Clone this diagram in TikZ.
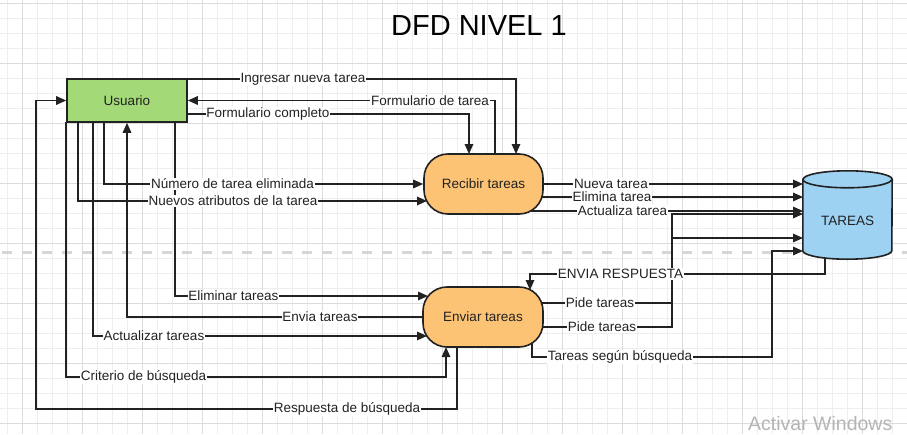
\documentclass[tikz,border=0pt]{standalone}
\usepackage{fontspec}
\setmainfont{Liberation Sans}
\usetikzlibrary{arrows.meta}
\definecolor{linec}{HTML}{222222}
\definecolor{txt}{HTML}{222222}
\definecolor{usrgreen}{HTML}{A3D977}
\definecolor{procorange}{HTML}{FDC374}
\definecolor{tarblue}{HTML}{9DD2F2}
\definecolor{gridminor}{HTML}{EEEEEE}
\definecolor{gridmajor}{HTML}{DCDCDC}
\definecolor{pagebreak}{HTML}{D6D6D6}
\definecolor{watermark}{HTML}{B4B4B4}
\begin{document}
\begin{tikzpicture}[x=1pt,y=-1pt,
  conn/.style={line width=1.6pt, draw=linec},
  arr/.style={conn, -{Triangle[length=10pt,width=8.5pt]}},
  lbl/.style={fill=white, inner sep=0.8pt, text=txt, font=\fontsize{13.5}{16}\selectfont},
  entity/.style={draw=linec, line width=1.6pt, fill=usrgreen, minimum width=120pt, minimum height=43pt, inner sep=0pt, text=txt, font=\fontsize{13.5}{16}\selectfont},
  proc/.style={draw=linec, line width=1.6pt, fill=procorange, rounded corners=24pt, minimum width=120pt, minimum height=60pt, inner sep=0pt, text=txt, font=\fontsize{13.5}{16}\selectfont},
  minorline/.style={draw=gridminor, line width=1pt},
  majorline/.style={draw=gridmajor, line width=1pt}]
\useasboundingbox (0,0) rectangle (907,434);
\fill[white] (0,0) rectangle (907,434);
% grid
\foreach \x in {7,22,...,907} \draw[minorline] (\x,0) -- (\x,434);
\foreach \y in {3,18,...,434} \draw[minorline] (0,\y) -- (907,\y);
\foreach \x in {22,82,...,907} \draw[majorline] (\x,0) -- (\x,434);
\foreach \y in {3,63,...,434} \draw[majorline] (0,\y) -- (907,\y);
% page break
\draw[draw=pagebreak, line width=2.5pt, dash pattern=on 10pt off 10pt] (2,252.5) -- (907,252.5);
% title
\node[anchor=base, text=black, font=\fontsize{29}{34}\selectfont] (title) at (479,35) {DFD NIVEL 1};
% watermark
\node[anchor=base west, inner sep=0pt, text=watermark, font=\fontsize{19.5}{22}\selectfont] (wm) at (748,430) {Activar Windows};
% nodes
\node[entity] (usr) at (127,100.5) {Usuario};
\node[proc, minimum width=119pt] (rec) at (483.5,184) {Recibir tareas};
\node[proc] (env) at (483,317) {Enviar tareas};
\node[minimum width=89pt, minimum height=88pt, inner sep=0pt] (tar) at (847.5,215) {};
\path[fill=tarblue, draw=linec, line width=1.6pt]
  ([yshift=-8.5pt]tar.north west) -- ([yshift=8.5pt]tar.south west)
  arc[start angle=180, end angle=360, x radius=44.5pt, y radius=8.5pt]
  -- ([yshift=-8.5pt]tar.north east)
  arc[start angle=0, end angle=180, x radius=44.5pt, y radius=8.5pt] -- cycle;
\draw[draw=linec, line width=1.6pt] ([yshift=-8.5pt]tar.north west)
  arc[start angle=180, end angle=360, x radius=44.5pt, y radius=8.5pt];
\node[text=txt, font=\fontsize{13.5}{16}\selectfont] (tarlbl) at ([yshift=-6pt]tar.center) {TAREAS};
% coordinates for bends
\coordinate (cR) at (36,409);
\coordinate (m1) at (672,238);
\coordinate (m2) at (672,214);
\coordinate (m3) at (772,357);
\coordinate (m4) at (530,274);
% connectors
\draw[arr] ([shift={(60,-21.5)}]usr.center) -| ([shift={(32.5,-30)}]rec.center);
\draw[arr] ([shift={(11.5,-30)}]rec.center) |- (usr.east);
\draw[arr] ([shift={(60,13.5)}]usr.center) -| ([shift={(-14.5,-30)}]rec.center);
\draw[arr] ([shift={(48,21.5)}]usr.center) |- ([shift={(-55,-21)}]env.center);
\draw[arr] ([shift={(-23,21.5)}]usr.center) |- (rec.west);
\draw[arr] ([shift={(-49,21.5)}]usr.center) |- ([shift={(-56.5,17)}]rec.center);
\draw[arr] (env.west) -| (usr.south);
\draw[arr] ([shift={(-34,21.5)}]usr.center) |- ([shift={(-56,19)}]env.center);
\draw[arr] ([shift={(-61,21.5)}]usr.center) |- ([shift={(-37,60)}]env.center) -- ([shift={(-37,30)}]env.center);
\draw[arr] ([shift={(-26,30)}]env.center) |- (cR) |- (usr.west);
\draw[arr] (rec.east) -- ([shift={(-44.5,-31)}]tar.center);
\draw[arr] ([shift={(58.5,13)}]rec.center) -- ([shift={(-44.5,-18)}]tar.center);
\draw[arr] ([shift={(47.5,27)}]rec.center) -- ([shift={(-44.5,-4)}]tar.center);
\draw[arr] ([shift={(59,-14)}]env.center) -| (m1) -- ([shift={(-44.5,23)}]tar.center);
\draw[arr] ([shift={(60,10)}]env.center) -| (m2) -- ([shift={(-44.5,-1)}]tar.center);
\draw[arr] ([shift={(49,26)}]env.center) |- (m3) |- ([shift={(-44.5,36)}]tar.center);
\draw[arr] ([shift={(-22.5,44)}]tar.center) |- (m4) -- ([shift={(47,-27)}]env.center);
% labels
\node[lbl] (l1) at (303,79) {Ingresar nueva tarea};
\node[lbl] (l2) at (430,100.5) {Formulario de tarea};
\node[lbl] (l3) at (268,114) {Formulario completo};
\node[lbl] (l4) at (232.5,184) {Número de tarea eliminada};
\node[lbl] (l5) at (233,201) {Nuevos atributos de la tarea};
\node[lbl] (l6) at (233.5,296) {Eliminar tareas};
\node[lbl] (l7) at (320,317) {Envia tareas};
\node[lbl] (l8) at (154,336) {Actualizar tareas};
\node[lbl] (l9) at (143.5,377) {Criterio de búsqueda};
\node[lbl] (l10) at (347,409) {Respuesta de búsqueda};
\node[lbl] (l11) at (611,184) {Nueva tarea};
\node[lbl] (l12) at (612,197) {Elimina tarea};
\node[lbl] (l13) at (622.5,211) {Actualiza tarea};
\node[lbl] (l14) at (600,303) {Pide tareas};
\node[lbl] (l15) at (602,327) {Pide tareas};
\node[lbl] (l16) at (620,357) {Tareas según búsqueda};
\node[lbl] (l17) at (620.5,274) {ENVIA RESPUESTA};
\end{tikzpicture}
\end{document}
